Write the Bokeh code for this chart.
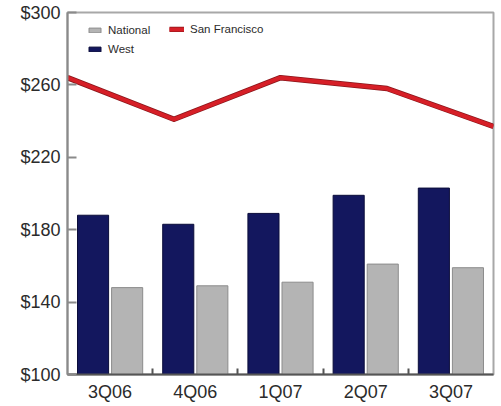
from bokeh.plotting import figure
from bokeh.models import (ColumnDataSource, FixedTicker, PrintfTickFormatter,
                          Range1d, Legend, LegendItem, LinearAxis)
from bokeh.embed import file_html
from bokeh.resources import INLINE

# Quarterly values (dollars)
quarters = ["3Q06", "4Q06", "1Q07", "2Q07", "3Q07"]
west = [188, 183, 189, 199, 203]
national = [148, 149, 151, 161, 159]
san_francisco = [264, 241, 264, 258, 237]

NAVY = "#13175e"
GREY = "#b4b4b4"
RED = "#d61f27"
TEXT = "#2b2b2b"
FONT = "Liberation Sans"

idx = list(range(len(quarters)))
src = ColumnDataSource(dict(
    x_west=[i - 0.2 for i in idx],
    x_nat=[i + 0.2 for i in idx],
    west=west,
    national=national,
))
line_src = ColumnDataSource(dict(pos=idx, sf=san_francisco))

p = figure(width=501, height=406, output_backend="svg", toolbar_location=None,
           x_range=Range1d(-0.5, len(quarters) - 0.5), y_range=Range1d(100, 300),
           min_border_left=67, min_border_right=8, min_border_top=12,
           min_border_bottom=32, x_axis_type=None, y_axis_type=None)
p.background_fill_color = "white"
p.border_fill_color = "white"
p.grid.visible = False
p.outline_line_color = "#a8a8a8"
p.outline_line_width = 2

# the line runs edge to edge across the whole frame on its own index scale
p.extra_x_ranges = {"sf": Range1d(0, len(quarters) - 1)}

bw = 0.365
r_west = p.vbar(x="x_west", top="west", bottom=100, width=bw, source=src,
                fill_color=NAVY, line_color="#0b0d3a", line_width=1)
r_nat = p.vbar(x="x_nat", top="national", bottom=100, width=bw, source=src,
               fill_color=GREY, line_color="#8c8c8c", line_width=1)

r_sf_edge = p.line(x="pos", y="sf", source=line_src, x_range_name="sf",
                   line_color="#8a161b", line_width=5.5, line_join="round")
r_sf = p.line(x="pos", y="sf", source=line_src, x_range_name="sf",
              line_color=RED, line_width=4, line_join="round")

# x axis: labels at quarter centres, short ticks at the boundaries
xaxis = LinearAxis(
    ticker=FixedTicker(ticks=idx, minor_ticks=[i + 0.5 for i in idx[:-1]]),
    major_label_overrides={i: q for i, q in zip(idx, quarters)},
)
xaxis.major_tick_in = 0
xaxis.major_tick_out = 0
xaxis.minor_tick_in = 6
xaxis.minor_tick_out = 0
xaxis.minor_tick_line_color = "#555555"
xaxis.minor_tick_line_width = 2
xaxis.axis_line_color = "#555555"
xaxis.axis_line_width = 2
xaxis.major_label_text_font = FONT
xaxis.major_label_text_font_size = "18px"
xaxis.major_label_text_color = TEXT
xaxis.major_label_standoff = 7
p.add_layout(xaxis, "below")

yaxis = LinearAxis(ticker=FixedTicker(ticks=[100, 140, 180, 220, 260, 300]),
                   formatter=PrintfTickFormatter(format="$%d"))
yaxis.major_tick_in = 9
yaxis.major_tick_out = 0
yaxis.minor_tick_line_color = None
yaxis.major_tick_line_color = "#8a8a8a"
yaxis.major_tick_line_width = 2
yaxis.axis_line_color = "#8a8a8a"
yaxis.axis_line_width = 2
yaxis.major_label_text_font = FONT
yaxis.major_label_text_font_size = "18px"
yaxis.major_label_text_color = TEXT
yaxis.major_label_standoff = 7
p.add_layout(yaxis, "left")


def make_legend(items, loc):
    lg = Legend(items=items, location=loc)
    lg.background_fill_alpha = 0
    lg.border_line_color = None
    lg.margin = 0
    lg.padding = 0
    lg.spacing = 2
    lg.glyph_width = 15
    lg.glyph_height = 6
    lg.label_height = 17
    lg.label_standoff = 6
    lg.label_text_font = FONT
    lg.label_text_font_size = "11.5px"
    lg.label_text_color = TEXT
    return lg


p.add_layout(make_legend([LegendItem(label="National", renderers=[r_nat]),
                          LegendItem(label="West", renderers=[r_west])],
                         (20, 317)))
sf_legend = make_legend([LegendItem(label="San Francisco",
                                    renderers=[r_sf_edge, r_sf])],
                        (102, 337))
p.add_layout(sf_legend)

open("out.html", "w").write(file_html(p, INLINE))
